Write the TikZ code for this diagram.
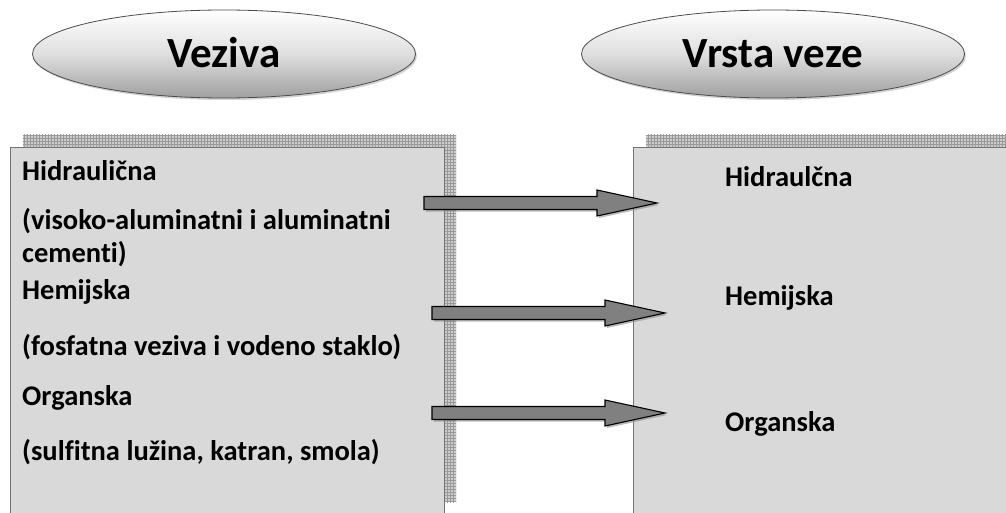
\documentclass[tikz,border=0pt]{standalone}
\usepackage{fontspec}
\setmainfont{Carlito}[Ligatures=NoCommon]
\usetikzlibrary{shapes.geometric,shadows,patterns,calc}
\begin{document}
\begin{tikzpicture}[x=1pt,y=-1pt,
  titleell/.style={ellipse, draw=gray!60!black, line width=0.8pt, top color=white, bottom color=gray!75, middle color=gray!25,
    minimum width=383pt, minimum height=88pt, inner sep=0pt, font=\bfseries\fontsize{43}{45}\selectfont,
    drop shadow={shadow xshift=1.5pt, shadow yshift=-2pt, opacity=0.35}},
  titletext/.style={anchor=base, inner sep=0pt, font=\bfseries\fontsize{43}{45}\selectfont},
  panel/.style={fill=gray!30, draw=gray!110, line width=0.8pt},
  lbl/.style={anchor=west, inner sep=0pt, font=\bfseries\fontsize{28.5}{33}\selectfont, align=left},
  blockarrow/.style={fill=gray, draw=black, line width=1.1pt, line join=miter},
  arrowshadow/.style={fill=gray!90, opacity=0.6}
]
\useasboundingbox (0,0) rectangle (1006,513);
% ellipses
\node[titleell] (veziva) at (224,54) {};
\node[titleell] (vrsta) at (773,54) {};
\node[titletext] (vezivaT) at ([yshift=-14pt]veziva.center) {Veziva};
\node[titletext] (vrstaT) at ([yshift=-14pt]vrsta.center) {Vrsta veze};
% panel shadows
\fill[gray!40] (23,135) rectangle (456,502);
\fill[pattern=grid, pattern color=gray!80] (23,135) rectangle (456,502);
\fill[gray!40] (646,135) rectangle (1010,520);
\fill[pattern=grid, pattern color=gray!80] (646,135) rectangle (1010,520);
% panels
\draw[panel] (10,147) rectangle (444,520);
\draw[panel] (633,147) rectangle (1012,520);
% left texts
\node[lbl] (l1) at (22,171) {Hidraulična};
\node[lbl, anchor=north west] (l2) at (22,208) {(visoko-aluminatni i aluminatni\\cementi)};
\node[lbl] (l3) at (22,292) {Hemijska};
\node[lbl] (l4) at (22,347) {(fosfatna veziva i vodeno staklo)};
\node[lbl] (l5) at (22,398) {Organska};
\node[lbl] (l6) at (22,452) {(sulfitna lužina, katran, smola)};
% right texts
\node[lbl] (r1) at (725,177) {Hidraulčna};
\node[lbl] (r2) at (725,298) {Hemijska};
\node[lbl] (r3) at (725,424) {Organska};
% arrows
\coordinate (a1s) at (424,203); \coordinate (a1e) at (657,203);
\coordinate (a2s) at (432,313); \coordinate (a2e) at (665,313);
\coordinate (a3s) at (432,413); \coordinate (a3e) at (665,413);
\foreach \s/\e in {a1s/a1e,a2s/a2e,a3s/a3e}{
  \fill[arrowshadow] ($(\s)+(2,-4.5)$) -- ($(\e)+(-58,-4.5)$) -- ($(\e)+(-58,-11)$) -- ($(\e)+(2,2)$) -- ($(\e)+(-58,15)$) -- ($(\e)+(-58,8.5)$) -- ($(\s)+(2,8.5)$) -- cycle;
  \draw[blockarrow] ($(\s)+(0,-6.5)$) -- ($(\e)+(-60,-6.5)$) -- ($(\e)+(-60,-13)$) -- (\e) -- ($(\e)+(-60,13)$) -- ($(\e)+(-60,6.5)$) -- ($(\s)+(0,6.5)$) -- cycle;
}
\end{tikzpicture}
\end{document}
